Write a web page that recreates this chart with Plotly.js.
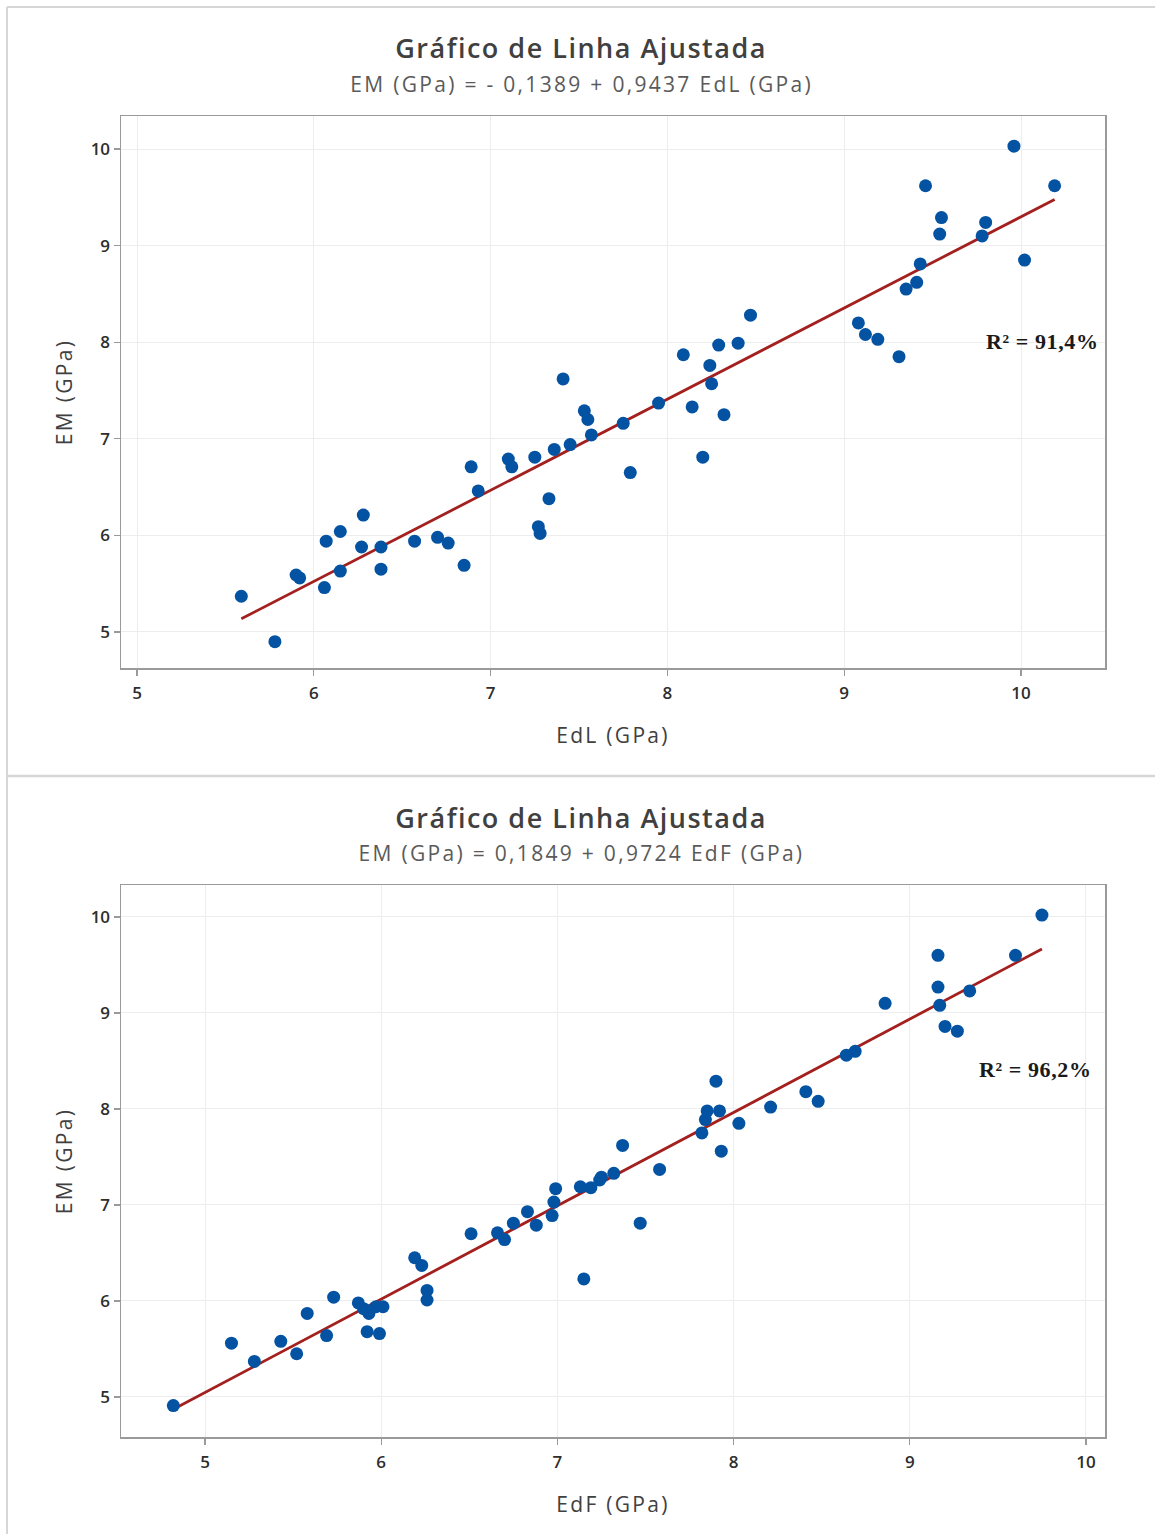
<!DOCTYPE html>
<html>
<head>
<meta charset="utf-8">
<script src="https://cdn.plot.ly/plotly-3.0.1.min.js"></script>
<style>
html,body{margin:0;padding:0;background:#fff;}
#chart{width:1155px;height:1534px;}
text.xtitle, text.x2title, text.ytitle, text.y2title{letter-spacing:2.3px;}
</style>
</head>
<body>
<div id="chart"></div>
<script>
// ---- Data: top chart (EdL vs EM) ----
const edl = [5.59,5.78,5.90,5.92,6.07,6.15,6.06,6.15,6.28,6.27,6.38,6.38,6.57,6.70,6.76,6.85,6.89,6.93,7.10,7.12,
             7.25,7.27,7.28,7.33,7.36,7.41,7.45,7.53,7.55,7.57,7.75,7.79,7.95,8.09,8.14,8.20,8.24,8.25,8.29,8.32,
             8.40,8.47,9.08,9.12,9.19,9.31,9.35,9.41,9.43,9.46,9.54,9.55,9.78,9.80,9.96,10.02,10.19];
const emTop = [5.37,4.90,5.59,5.56,5.94,6.04,5.46,5.63,6.21,5.88,5.88,5.65,5.94,5.98,5.92,5.69,6.71,6.46,6.79,6.71,
               6.81,6.09,6.02,6.38,6.89,7.62,6.94,7.29,7.20,7.04,7.16,6.65,7.37,7.87,7.33,6.81,7.76,7.57,7.97,7.25,
               7.99,8.28,8.20,8.08,8.03,7.85,8.55,8.62,8.81,9.62,9.12,9.29,9.10,9.24,10.03,8.85,9.62];
const fitTop = {intercept: -0.1389, slope: 0.9437};
const r2Top = "R² = 91,4%";

// ---- Data: bottom chart (EdF vs EM) ----
const edf = [4.82,5.15,5.28,5.43,5.52,5.58,5.69,5.73,5.87,5.90,5.93,5.97,6.01,5.92,5.99,6.19,6.23,6.26,6.26,6.51,
             6.66,6.70,6.75,6.83,6.88,6.97,6.98,6.99,7.13,7.19,7.24,7.25,7.32,7.15,7.37,7.47,7.58,7.82,7.84,7.85,
             7.90,7.92,7.93,8.03,8.21,8.41,8.48,8.64,8.69,8.86,9.16,9.16,9.17,9.20,9.27,9.34,9.60,9.75];
const emBot = [4.91,5.56,5.37,5.58,5.45,5.87,5.64,6.04,5.98,5.92,5.87,5.94,5.94,5.68,5.66,6.45,6.37,6.11,6.01,6.70,
               6.71,6.64,6.81,6.93,6.79,6.89,7.03,7.17,7.19,7.18,7.26,7.29,7.33,6.23,7.62,6.81,7.37,7.75,7.89,7.98,
               8.29,7.98,7.56,7.85,8.02,8.18,8.08,8.56,8.60,9.10,9.60,9.27,9.08,8.86,8.81,9.23,9.60,10.02];
const fitBot = {intercept: 0.1849, slope: 0.9724};
const r2Bot = "R² = 96,2%";

const tickVals = [5,6,7,8,9,10];
const tickText = ["5","6","7","8","9","10"];

function fitLine(xs, f){
  const x0 = Math.min(...xs), x1 = Math.max(...xs);
  return {x:[x0,x1], y:[f.intercept+f.slope*x0, f.intercept+f.slope*x1]};
}

const W = 1155, H = 1534;
const px = v => v / W;
const py = v => 1 - v / H;

const blue = '#0453A3';
const red = '#A3201F';

const lt = fitLine(edl, fitTop);
const lb = fitLine(edf, fitBot);

const traces = [
  {x: lt.x, y: lt.y, mode:'lines', line:{color:red, width:2.8}, xaxis:'x', yaxis:'y', hoverinfo:'skip', showlegend:false},
  {x: edl, y: emTop, mode:'markers', marker:{color:blue, size:13}, xaxis:'x', yaxis:'y', showlegend:false},
  {x: lb.x, y: lb.y, mode:'lines', line:{color:red, width:2.8}, xaxis:'x2', yaxis:'y2', hoverinfo:'skip', showlegend:false},
  {x: edf, y: emBot, mode:'markers', marker:{color:blue, size:13}, xaxis:'x2', yaxis:'y2', showlegend:false}
];

const tickFont = {family:'"Open Sans", "Noto Sans", sans-serif', size:17, color:'#2e2e2e', weight:600};
const axTitleFont = {family:'"Open Sans", "Noto Sans", sans-serif', size:21, color:'#404040'};

function xAxis(range, domain, anchor, title){
  return {
    range: range, domain: domain, anchor: anchor,
    tickvals: tickVals, ticktext: tickText,
    showgrid:true, gridcolor:'#ededed', gridwidth:1,
    showline:true, linecolor:'#9a9a9a', linewidth:1.5, mirror:true,
    ticks:'outside', ticklen:6, tickcolor:'#9a9a9a', tickwidth:1.2,
    ticklabelstandoff:3,
    tickfont: tickFont, zeroline:false, automargin:false,
    title:{text:title, font:axTitleFont, standoff:25}
  };
}
function yAxis(range, domain, anchor, title){
  return {
    range: range, domain: domain, anchor: anchor,
    tickvals: tickVals, ticktext: tickText,
    showgrid:true, gridcolor:'#ededed', gridwidth:1,
    showline:true, linecolor:'#9a9a9a', linewidth:1.5, mirror:true,
    ticks:'outside', ticklen:6, tickcolor:'#9a9a9a', tickwidth:1.2,
    tickfont: tickFont, zeroline:false, automargin:false,
    title:{text:title, font:axTitleFont, standoff:12}
  };
}

const titleFont = {family:'"Open Sans", "Noto Sans", sans-serif', size:27, color:'#404040', weight:600};
const subFont = {family:'"Open Sans", "Noto Sans", sans-serif', size:21, color:'#5a5a5a'};
const r2Font = {family:'"Liberation Serif", "Times New Roman", serif', size:22, color:'#1a1a1a', weight:700};

const layout = {
  width: W, height: H,
  margin:{l:0, r:0, t:0, b:0},
  paper_bgcolor:'#ffffff', plot_bgcolor:'#ffffff',
  showlegend:false,
  xaxis: xAxis([4.9095, 10.475], [px(121), px(1105)], 'y', 'EdL (GPa)'),
  yaxis: yAxis([4.627, 10.342], [py(668), py(116)], 'x', 'EM (GPa)'),
  xaxis2: xAxis([4.523, 10.108], [px(121), px(1105)], 'y2', 'EdF (GPa)'),
  yaxis2: yAxis([4.583, 10.333], [py(1437), py(885)], 'x2', 'EM (GPa)'),
  annotations: [
    {text:'Gráfico de Linha Ajustada', xref:'paper', yref:'paper', x:px(581), y:py(48), xanchor:'center', yanchor:'middle', showarrow:false, font:titleFont},
    {text:'EM (GPa) = - 0,1389 + 0,9437 EdL (GPa)', xref:'paper', yref:'paper', x:px(581), y:py(84), xanchor:'center', yanchor:'middle', showarrow:false, font:subFont},
    {text:'Gráfico de Linha Ajustada', xref:'paper', yref:'paper', x:px(581), y:py(817), xanchor:'center', yanchor:'middle', showarrow:false, font:titleFont},
    {text:'EM (GPa) = 0,1849 + 0,9724 EdF (GPa)', xref:'paper', yref:'paper', x:px(581), y:py(853), xanchor:'center', yanchor:'middle', showarrow:false, font:subFont},
    {text:r2Top, xref:'x', yref:'y', x:10.119, y:8.012, xanchor:'center', yanchor:'middle', showarrow:false, font:r2Font},
    {text:r2Bot, xref:'x2', yref:'y2', x:9.716, y:8.406, xanchor:'center', yanchor:'middle', showarrow:false, font:r2Font}
  ],
  shapes: [
    {type:'line', xref:'paper', yref:'paper', x0:px(7), x1:1, y0:py(7), y1:py(7), line:{color:'#d6d6d6', width:2}},
    {type:'line', xref:'paper', yref:'paper', x0:px(7), x1:px(7), y0:py(7), y1:0, line:{color:'#d6d6d6', width:2}},
    {type:'line', xref:'paper', yref:'paper', x0:px(7), x1:1, y0:py(776), y1:py(776), line:{color:'#d6d6d6', width:2.5}}
  ]
};

// extra letter spacing per annotation (reference text is drawn wider)
const annSpacing = ['1.5px','2.3px','1.5px','2.3px','0.6px','0.6px'];

Plotly.newPlot('chart', traces, layout, {displayModeBar:false, staticPlot:true}).then(function(){
  const groups = document.querySelectorAll('g.annotation');
  groups.forEach(function(g, i){
    const t = g.querySelector('text.annotation-text');
    if (t && annSpacing[i]) t.style.letterSpacing = annSpacing[i];
  });
});
</script>
</body>
</html>
